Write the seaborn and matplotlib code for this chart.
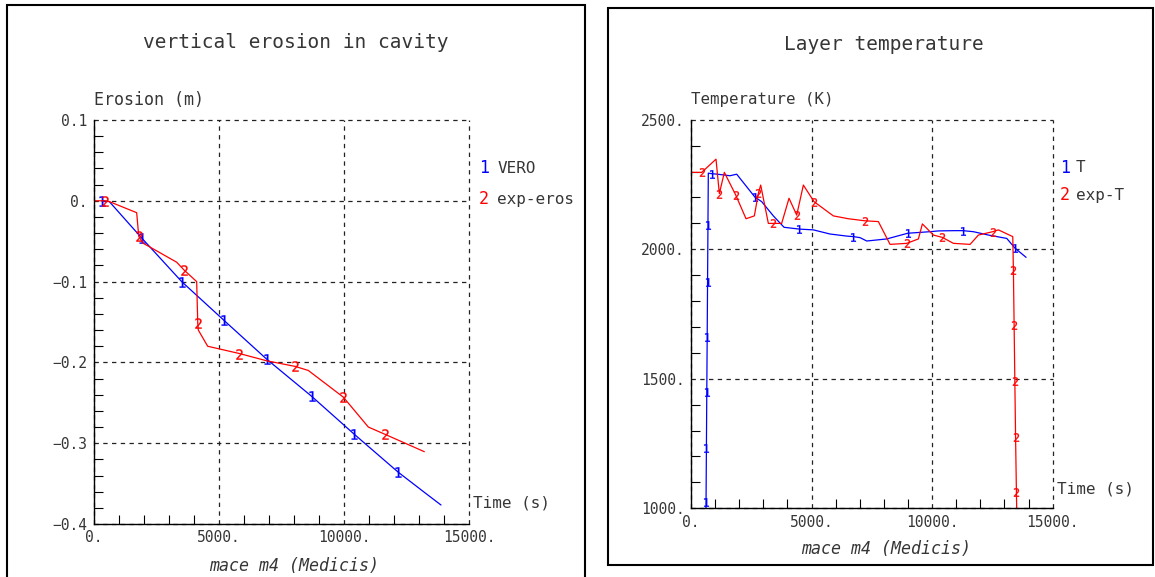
import matplotlib
matplotlib.use("Agg")
import matplotlib.pyplot as plt
import seaborn as sns
from matplotlib.patches import Rectangle
from matplotlib.ticker import MultipleLocator, FixedLocator, FixedFormatter

# ---------------- data: left panel (vertical erosion in cavity) ----------------
vero_time = [307, 613, 1907, 3507, 5200, 6907, 8707, 10413, 12173, 13307, 13880]
vero_eros = [0.0, -0.001, -0.046, -0.100, -0.148, -0.196, -0.242, -0.289, -0.336, -0.363, -0.3765]
vero_labels_at = [0, 2, 3, 4, 5, 6, 7, 8]

exp_eros_time = [0, 440, 613, 1707, 1773, 1790, 1973, 3307, 3600, 4107, 4150, 4173,
                 4547, 5813, 6907, 8053, 8573, 9973, 10973, 11640, 13213]
exp_eros_val = [0.0, 0.0, -0.001, -0.0147, -0.038, -0.044, -0.0526, -0.076, -0.0856, -0.100,
                -0.151, -0.160, -0.180, -0.189, -0.198, -0.205, -0.210, -0.243, -0.280, -0.289, -0.3105]
exp_eros_labels_at = [1, 5, 8, 10, 13, 15, 17, 19]

left_xticks = [0, 5000, 10000, 15000]
left_xticklabels = ["0.", "5000.", "10000.", "15000."]
left_yticks = [0.1, 0.0, -0.1, -0.2, -0.3, -0.4]
left_yticklabels = ["0.1", "0.", "\u22120.1", "\u22120.2", "\u22120.3", "\u22120.4"]

# ---------------- data: right panel (Layer temperature) ----------------
t_time = [620, 624, 639, 655, 671, 687, 703, 718, 860, 1092, 1618, 1895, 2655, 2932, 3415,
          3858, 4494, 5075, 5766, 6460, 6734, 7010, 7288, 8117, 8988, 9914, 10260, 10951,
          11270, 11710, 12332, 13095, 13440, 13896]
t_temp = [990, 1025, 1234, 1448, 1660, 1875, 2094, 2294, 2292, 2290, 2284, 2290, 2201, 2184, 2129,
          2085, 2078, 2075, 2059, 2051, 2049, 2045, 2032, 2040, 2062, 2068, 2071, 2072,
          2072, 2068, 2055, 2042, 2004, 1969]
t_labels_at = [1, 2, 3, 4, 5, 6, 8, 12, 16, 20, 24, 28, 32]

expT_time = [0, 443, 1037, 1175, 1383, 1853, 2282, 2627, 2793, 2890, 3208, 3415, 3760, 4065,
             4384, 4660, 5102, 5903, 6525, 7217, 7770, 8255, 8947, 9430, 9596, 10052, 10425,
             10881, 11574, 11919, 12514, 12747, 13344, 13370, 13400, 13430, 13460, 13495, 13510]
expT_temp = [2297, 2297, 2348, 2215, 2297, 2210, 2118, 2129, 2216, 2248, 2100, 2100, 2100, 2197,
             2132, 2248, 2184, 2129, 2118, 2110, 2107, 2019, 2023, 2040, 2098, 2055, 2046,
             2023, 2019, 2055, 2068, 2075, 2049, 1920, 1708, 1492, 1276, 1064, 980]
expT_labels_at = [1, 3, 5, 8, 11, 14, 16, 19, 22, 26, 30, 33, 34, 35, 36, 37]

right_xticks = [0, 5000, 10000, 15000]
right_xticklabels = ["0.", "5000.", "10000.", "15000."]
right_yticks = [1000, 1500, 2000, 2500]
right_yticklabels = ["1000.", "1500.", "2000.", "2500."]

# ---------------- style ----------------
sns.set_theme(style="white")
plt.rcParams["font.family"] = ["DejaVu Sans Mono", "DejaVu Sans"]
plt.rcParams["mathtext.default"] = "regular"
TXT = "#363636"

fig = plt.figure(figsize=(11.55, 5.77), dpi=100)
axL = fig.add_axes([94 / 1155, 53 / 577, 375 / 1155, 404 / 577])
axR = fig.add_axes([691 / 1155, 68.7 / 577, 361.7 / 1155, 388.5 / 577])

def style_axes(ax, xt, xtl, yt, ytl, xlim, ylim, yminor):
    ax.set_xlim(*xlim)
    ax.set_ylim(*ylim)
    ax.xaxis.set_major_locator(FixedLocator(xt))
    ax.xaxis.set_major_formatter(FixedFormatter(xtl))
    ax.yaxis.set_major_locator(FixedLocator(yt))
    ax.yaxis.set_major_formatter(FixedFormatter(ytl))
    ax.xaxis.set_minor_locator(MultipleLocator(1000))
    ax.yaxis.set_minor_locator(MultipleLocator(yminor))
    ax.tick_params(which="major", length=0, pad=4.5, labelsize=10.5, labelcolor=TXT)
    ax.tick_params(which="minor", direction="in", length=6.5, width=0.8, color="black",
                   left=True, bottom=True)
    ax.grid(True, which="major", color="#222222", lw=0.9, ls=(0, (3.5, 3.5)))
    for gl in ax.get_xgridlines() + ax.get_ygridlines():
        gl.set_clip_on(False)
    for s in ("top", "right"):
        ax.spines[s].set_visible(False)
    for s in ("left", "bottom"):
        ax.spines[s].set_color("black")
        ax.spines[s].set_linewidth(1.0)
    ax.set_xlabel("")
    ax.set_ylabel("")

def draw(ax, x, y, color, digit, idx, ms):
    sns.lineplot(x=x, y=y, ax=ax, color=color, lw=0.9, sort=False, estimator=None,
                 marker=r"$\mathregular{%s}$" % digit, markevery=idx, markersize=ms,
                 markeredgecolor=color, markerfacecolor=color, markeredgewidth=0.2)

# ---------- left ----------
draw(axL, vero_time, vero_eros, "blue", "1", vero_labels_at, 7.5)
draw(axL, exp_eros_time, exp_eros_val, "red", "2", exp_eros_labels_at, 7.5)
style_axes(axL, left_xticks, left_xticklabels, left_yticks, left_yticklabels,
           (0, 15000), (-0.4, 0.1), 0.02)
axL.text(0.0, 1.05, "Erosion (m)", transform=axL.transAxes, fontsize=12, color=TXT,
         ha="left", va="center")
axL.text(1.011, 0.052, "Time (s)", transform=axL.transAxes, fontsize=11.5, color=TXT,
         ha="left", va="center")
axL.text(0.533, -0.104, "mace m4 (Medicis)", transform=axL.transAxes, fontsize=12,
         color=TXT, style="italic", ha="center", va="center")
axL.text(1.04, 0.881, "1", transform=axL.transAxes, fontsize=12, color="blue",
         ha="center", va="center")
axL.text(1.075, 0.881, "VERO", transform=axL.transAxes, fontsize=11.5, color=TXT,
         ha="left", va="center")
axL.text(1.04, 0.804, "2", transform=axL.transAxes, fontsize=12, color="red",
         ha="center", va="center")
axL.text(1.075, 0.804, "exp-eros", transform=axL.transAxes, fontsize=11.5, color=TXT,
         ha="left", va="center")

# ---------- right ----------
draw(axR, t_time, t_temp, "blue", "1", t_labels_at, 6.2)
draw(axR, expT_time, expT_temp, "red", "2", expT_labels_at, 6.2)
style_axes(axR, right_xticks, right_xticklabels, right_yticks, right_yticklabels,
           (0, 15000), (1000, 2500), 100)
axR.text(0.0, 1.051, "Temperature (K)", transform=axR.transAxes, fontsize=11.3, color=TXT,
         ha="left", va="center")
axR.text(1.012, 0.05, "Time (s)", transform=axR.transAxes, fontsize=11.5, color=TXT,
         ha="left", va="center")
axR.text(0.539, -0.105, "mace m4 (Medicis)", transform=axR.transAxes, fontsize=12,
         color=TXT, style="italic", ha="center", va="center")
axR.text(1.034, 0.876, "1", transform=axR.transAxes, fontsize=12, color="blue",
         ha="center", va="center")
axR.text(1.064, 0.876, "T", transform=axR.transAxes, fontsize=11.5, color=TXT,
         ha="left", va="center")
axR.text(1.034, 0.806, "2", transform=axR.transAxes, fontsize=12, color="red",
         ha="center", va="center")
axR.text(1.064, 0.806, "exp-T", transform=axR.transAxes, fontsize=11.5, color=TXT,
         ha="left", va="center")

# ---------- titles ----------
fig.text(296 / 1155, 1 - 42 / 577, "vertical erosion in cavity", fontsize=14, color=TXT,
         ha="center", va="center")
fig.text(884 / 1155, 1 - 45 / 577, "Layer temperature", fontsize=14, color=TXT,
         ha="center", va="center")

# ---------- panel frames ----------
fig.add_artist(Rectangle((7 / 1155, -0.02), 578 / 1155, (572 / 577) + 0.02,
                         transform=fig.transFigure, fill=False, lw=1.5, ec="black"))
fig.add_artist(Rectangle((608 / 1155, 12 / 577), 545 / 1155, 557 / 577,
                         transform=fig.transFigure, fill=False, lw=1.5, ec="black"))

fig.savefig("out.png", dpi=100)
